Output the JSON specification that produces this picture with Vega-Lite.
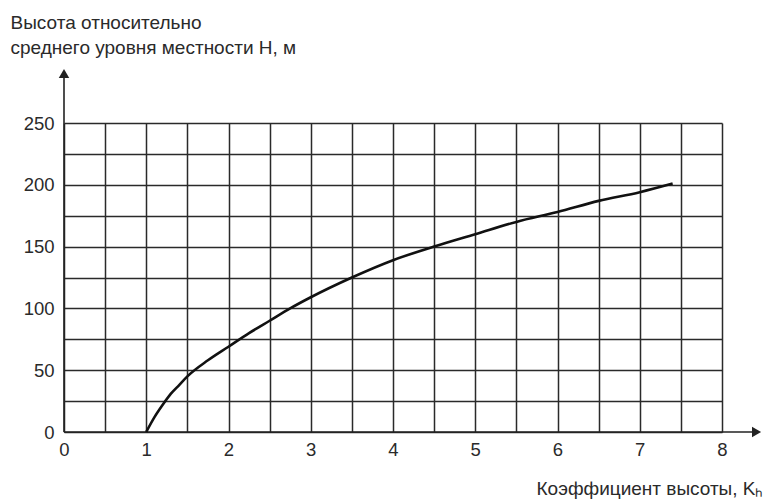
{
  "$schema": "https://vega.github.io/schema/vega-lite/v6.json",
  "autosize": "none",
  "width": 658,
  "height": 309,
  "padding": {"left": 64, "top": 123, "right": 43, "bottom": 67},
  "background": "white",
  "config": {
    "view": {"stroke": null},
    "font": "Liberation Sans",
    "axis": {"labelFont": "Liberation Sans", "titleFont": "Liberation Sans", "labelColor": "#2a2a2a", "titleColor": "#2a2a2a", "titleFontWeight": "normal"}
  },
  "datasets": {
    "curve": [
      {"k": 1.0, "h": 0},
      {"k": 1.1, "h": 12},
      {"k": 1.2, "h": 22},
      {"k": 1.3, "h": 31},
      {"k": 1.4, "h": 38},
      {"k": 1.5, "h": 45},
      {"k": 1.75, "h": 58},
      {"k": 2.0, "h": 69},
      {"k": 2.25, "h": 80},
      {"k": 2.5, "h": 90},
      {"k": 2.75, "h": 100},
      {"k": 3.0, "h": 109},
      {"k": 3.5, "h": 125},
      {"k": 4.0, "h": 139},
      {"k": 4.5, "h": 150},
      {"k": 5.0, "h": 160},
      {"k": 5.5, "h": 170},
      {"k": 6.0, "h": 178},
      {"k": 6.5, "h": 187},
      {"k": 7.0, "h": 194},
      {"k": 7.4, "h": 201}
    ],
    "axes": [
      {"x": 0, "y": 0, "x2": 0, "y2": 292},
      {"x": 0, "y": 0, "x2": 8.45, "y2": 0}
    ],
    "arrowsUp": [{"x": 0, "y": 290}],
    "arrowsRight": [{"x": 8.42, "y": 0}]
  },
  "layer": [
    {
      "data": {"name": "axes"},
      "mark": {"type": "rule", "color": "#222", "strokeWidth": 1.6},
      "encoding": {
        "x": {"field": "x", "type": "quantitative",
          "scale": {"domain": [0, 8], "nice": false, "zero": false},
          "axis": {
            "values": [0, 0.5, 1, 1.5, 2, 2.5, 3, 3.5, 4, 4.5, 5, 5.5, 6, 6.5, 7, 7.5, 8],
            "tickCount": 100,
            "labelExpr": "datum.value % 1 === 0 ? format(datum.value, 'd') : ''",
            "labelOverlap": false, "labelFlush": false,
            "grid": true, "gridColor": "#2a2a2a", "gridWidth": 1.5, "gridOpacity": 1,
            "domain": false, "ticks": false,
            "labelFontSize": 18.5, "labelPadding": 8, "labelBaseline": "top",
            "title": "Коэффициент высоты, Kₕ",
            "titleFontSize": 19, "titleX": 699, "titleY": 56, "titleAlign": "right", "titleBaseline": "middle"
          }},
        "y": {"field": "y", "type": "quantitative",
          "scale": {"domain": [0, 250], "nice": false, "zero": false},
          "axis": {
            "values": [0, 25, 50, 75, 100, 125, 150, 175, 200, 225, 250],
            "tickCount": 100,
            "labelExpr": "datum.value % 50 === 0 ? format(datum.value, 'd') : ''",
            "labelOverlap": false, "labelFlush": false,
            "grid": true, "gridColor": "#2a2a2a", "gridWidth": 1.5, "gridOpacity": 1,
            "domain": false, "ticks": false,
            "labelFontSize": 18.5, "labelPadding": 10,
            "title": ["Высота относительно", "среднего уровня местности H, м"],
            "titleFontSize": 19, "titleLineHeight": 25, "titleAngle": 0,
            "titleX": -54, "titleY": -95, "titleAlign": "left", "titleBaseline": "alphabetic"
          }},
        "x2": {"field": "x2"},
        "y2": {"field": "y2"}
      }
    },
    {
      "data": {"name": "arrowsUp"},
      "mark": {"type": "point", "shape": "triangle-up", "filled": true, "color": "#222", "size": 110, "opacity": 1},
      "encoding": {
        "x": {"field": "x", "type": "quantitative"},
        "y": {"field": "y", "type": "quantitative"}
      }
    },
    {
      "data": {"name": "arrowsRight"},
      "mark": {"type": "point", "shape": "triangle-right", "filled": true, "color": "#222", "size": 110, "opacity": 1},
      "encoding": {
        "x": {"field": "x", "type": "quantitative"},
        "y": {"field": "y", "type": "quantitative"}
      }
    },
    {
      "data": {"name": "curve"},
      "mark": {"type": "line", "color": "#111", "strokeWidth": 2.6, "interpolate": "monotone"},
      "encoding": {
        "x": {"field": "k", "type": "quantitative"},
        "y": {"field": "h", "type": "quantitative"}
      }
    }
  ]
}
